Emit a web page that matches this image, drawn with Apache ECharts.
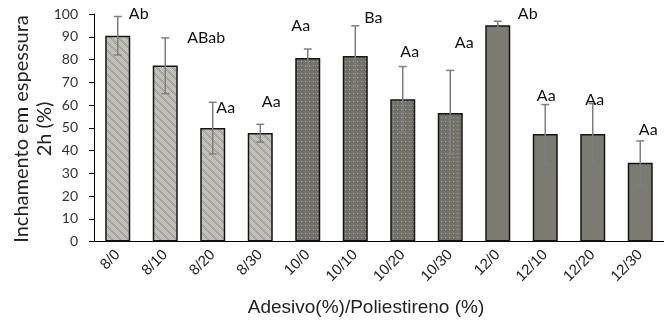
<!DOCTYPE html>
<html>
<head>
<meta charset="utf-8">
<script src="https://cdn.jsdelivr.net/npm/echarts@6/dist/echarts.min.js"></script>
<style>html,body{margin:0;padding:0;background:#fff;}#c{width:664px;height:329px;}</style>
</head>
<body>
<div id="c"></div>
<script>
const categories = ['8/0','8/10','8/20','8/30','10/0','10/10','10/20','10/30','12/0','12/10','12/20','12/30'];
const means   = [90.4, 77.4, 49.9, 47.7, 80.7, 81.5, 62.5, 56.5, 95.1, 47.2, 47.2, 34.6];
const errHigh = [98.9, 89.5, 61.2, 51.5, 84.6, 94.8, 76.9, 75.2, 96.8, 60.2, 60.6, 44.2];
const errLow  = [82.0, 65.0, 38.5, 43.7, 76.9, 68.0, 48.1, 38.4, 93.0, 34.1, 34.1, 24.8];
const letters = ['Ab','ABab','Aa','Aa','Aa','Ba','Aa','Aa','Ab','Aa','Aa','Aa'];

// label placement styles (pixel offsets from error-bar top)
const labelOffsets = [[21,-3],[41,0],[13,6],[11,-22],[-7,-23],[18,-8],[7,-15],[14,-28],[30,-7],[1,-9],[2,-4],[8,-11]];

function makePattern(kind) {
  const c = document.createElement('canvas');
  const ctx = c.getContext('2d');
  if (kind === 'hatch') {
    c.width = 8; c.height = 8;
    for (let y = 0; y < 8; y++) for (let x = 0; x < 8; x++) {
      const d = ((x - y) % 8 + 8) % 8;
      let col;
      if (d < 3) col = ((x + y) % 2 === 0) ? '#a0a098' : '#b0b0a8';
      else col = ((x + y) % 2 === 0) ? '#b8b8b0' : '#cacac2';
      ctx.fillStyle = col; ctx.fillRect(x, y, 1, 1);
    }
  } else if (kind === 'dots') {
    c.width = 4; c.height = 4;
    ctx.fillStyle = '#72726b'; ctx.fillRect(0, 0, 4, 4);
    ctx.fillStyle = '#acaca4'; ctx.fillRect(1, 1, 1, 1);
  } else {
    c.width = 2; c.height = 2;
    ctx.fillStyle = '#7b7b74'; ctx.fillRect(0, 0, 2, 2);
  }
  return { image: c, repeat: 'repeat' };
}
const fills = { '8': makePattern('hatch'), '10': makePattern('dots'), '12': makePattern('solid') };

const chart = echarts.init(document.getElementById('c'), null, { renderer: 'canvas' });
const labelFont = 'Lato, "Open Sans", sans-serif';

chart.setOption({
  animation: false,
  backgroundColor: '#fff',
  grid: { left: 94, top: 14, width: 582, bottom: 87.5, containLabel: false },
  xAxis: {
    type: 'category',
    data: categories,
    axisLine: { lineStyle: { color: '#000', width: 1 } },
    axisTick: { show: false },
    axisLabel: { rotate: 45, margin: 11, fontSize: 15, color: '#222', fontFamily: '"Liberation Sans", Arial, sans-serif', interval: 0 }
  },
  yAxis: {
    type: 'value', min: 0, max: 100, interval: 10,
    axisLine: { show: true, lineStyle: { color: '#000', width: 1 } },
    axisTick: { show: true, length: 5, lineStyle: { color: '#000' } },
    splitLine: { show: false },
    axisLabel: { margin: 16, fontSize: 14, color: '#333', fontFamily: labelFont }
  },
  graphic: [
    { type: 'text', x: 33, y: 129, rotation: Math.PI / 2,
      style: { text: 'Inchamento em espessura\n2h (%)', fill: '#222', font: '20px ' + labelFont,
               textAlign: 'center', textVerticalAlign: 'middle', lineHeight: 23 } },
    { type: 'text', x: 366, y: 308,
      style: { text: 'Adesivo(%)/Poliestireno (%)', fill: '#222', font: '19px "Liberation Sans", Arial, sans-serif',
               textAlign: 'center', textVerticalAlign: 'middle' } }
  ],
  series: [
    {
      type: 'bar',
      barWidth: 25,
      data: means.map((v, i) => ({
        value: v,
        itemStyle: { color: fills[categories[i].split('/')[0]], borderColor: '#151515', borderWidth: 1.5 }
      })),
      z: 2
    },
    {
      type: 'custom',
      z: 3,
      data: categories.map((c, i) => [i, errLow[i], errHigh[i]]),
      renderItem: function (params, api) {
        const i = api.value(0);
        const lo = api.coord([i, api.value(1)]);
        const hi = api.coord([i, api.value(2)]);
        const w = 4;
        const st = { stroke: '#7f7f7f', lineWidth: 1.5 };
        return { type: 'group', children: [
          { type: 'line', shape: { x1: hi[0], y1: hi[1], x2: lo[0], y2: lo[1] }, style: st },
          { type: 'line', shape: { x1: hi[0] - w, y1: hi[1], x2: hi[0] + w, y2: hi[1] }, style: st },
          { type: 'line', shape: { x1: lo[0] - w, y1: lo[1], x2: lo[0] + w, y2: lo[1] }, style: st }
        ] };
      }
    },
    {
      type: 'custom',
      z: 4,
      data: categories.map((c, i) => [i, errHigh[i]]),
      renderItem: function (params, api) {
        const i = api.value(0);
        const p = api.coord([i, api.value(1)]);
        const off = labelOffsets[i];
        return { type: 'text', x: p[0] + off[0], y: p[1] + off[1],
          style: { text: letters[i], fill: '#111', font: '16px ' + labelFont, textAlign: 'center', textVerticalAlign: 'middle' } };
      }
    }
  ]
});
</script>
</body>
</html>
